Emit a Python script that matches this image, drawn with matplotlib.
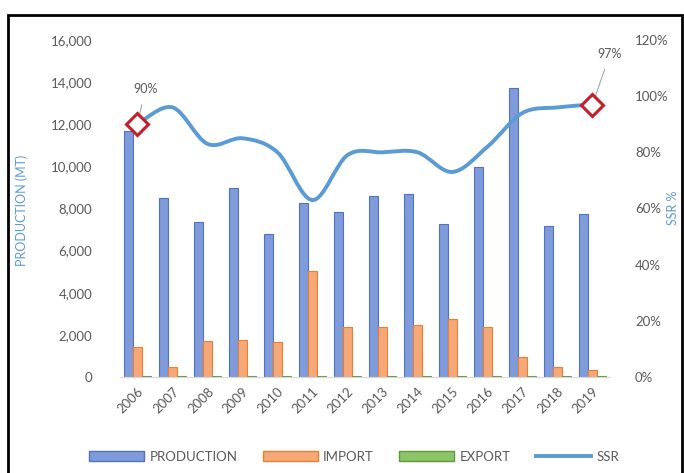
import matplotlib.pyplot as plt
import numpy as np
from matplotlib.path import Path
from matplotlib.patches import PathPatch, Patch, Rectangle
from matplotlib.lines import Line2D
from matplotlib.ticker import FuncFormatter

plt.rcParams['font.family'] = ['Lato', 'DejaVu Sans']

years = ['2006', '2007', '2008', '2009', '2010', '2011', '2012',
         '2013', '2014', '2015', '2016', '2017', '2018', '2019']
production = [11700, 8500, 7350, 8950, 6800, 8250, 7850,
              8600, 8700, 7250, 9950, 13700, 7150, 7750]
imports = [1420, 470, 1700, 1760, 1660, 5030, 2370,
           2370, 2470, 2750, 2370, 950, 470, 350]
exports = [60, 40, 50, 45, 55, 50, 70, 60, 65, 40, 55, 50, 45, 40]
ssr = [90, 96, 83, 85, 80, 63, 79, 80, 80, 73, 82, 94, 96, 97]

txt = '#595959'
c_prod, e_prod = '#7f9bd9', '#4f73c2'
c_imp, e_imp = '#f5a878', '#ec7d31'
c_exp, e_exp = '#8cc46a', '#5f9a3a'
c_ssr = '#5b9bd5'

fig = plt.figure(figsize=(6.84, 4.73), dpi=100)
ax = fig.add_axes([0.1754, 0.2030, 0.7164, 0.7125])
ax2 = ax.twinx()

x = np.arange(len(years))
w = 0.27
ax.bar(x - w, production, w * 0.95, color=c_prod, edgecolor=e_prod, linewidth=0.8)
ax.bar(x, imports, w * 0.95, color=c_imp, edgecolor=e_imp, linewidth=0.8)
ax.bar(x + w, exports, w * 0.95, color=c_exp, edgecolor=e_exp, linewidth=0.8)

ax.set_xlim(-0.5, len(years) - 0.5)
ax.set_ylim(0, 16000)
ax.set_yticks(range(0, 16001, 2000))
ax.yaxis.set_major_formatter(FuncFormatter(lambda v, p: f'{int(v):,}'))
ax.set_xticks(x)
ax.set_xticklabels(years, rotation=45, ha='right', rotation_mode='anchor')
ax.tick_params(axis='x', length=0, pad=6, labelsize=9.5, colors=txt)
ax.tick_params(axis='y', length=0, pad=20, labelsize=9.5, colors=txt)

# smoothed SSR line (bezier through the data points)
ys = np.array(ssr, dtype=float)
pts = list(zip(x, ys))
verts = [pts[0]]
codes = [Path.MOVETO]
n = len(pts)
for i in range(n - 1):
    p0 = np.array(pts[max(i - 1, 0)])
    p1 = np.array(pts[i])
    p2 = np.array(pts[i + 1])
    p3 = np.array(pts[min(i + 2, n - 1)])
    c1 = p1 + (p2 - p0) / 6
    c2 = p2 - (p3 - p1) / 6
    verts += [tuple(c1), tuple(c2), tuple(p2)]
    codes += [Path.CURVE4] * 3
ax2.add_patch(PathPatch(Path(verts, codes), fill=False, edgecolor=c_ssr,
                        linewidth=2.8, capstyle='round', zorder=3))
ax2.plot([x[0], x[-1]], [ssr[0], ssr[-1]], linestyle='none', marker='D',
         markersize=11, markerfacecolor='white', markeredgecolor='#c0202a',
         markeredgewidth=2.2, zorder=4)
ax2.annotate(f'{ssr[0]}%', xy=(x[0], ssr[0]), xytext=(x[0] + 0.22, ssr[0] + 12.5),
             fontsize=9, color=txt, ha='center', va='center',
             arrowprops=dict(arrowstyle='-', color='#a6a6a6', lw=0.8, shrinkA=5, shrinkB=6))
ax2.annotate(f'{ssr[-1]}%', xy=(x[-1], ssr[-1]), xytext=(x[-1] + 0.5, ssr[-1] + 18),
             fontsize=9, color=txt, ha='center', va='center',
             arrowprops=dict(arrowstyle='-', color='#a6a6a6', lw=0.8, shrinkA=5, shrinkB=6))

ax2.set_ylim(0, 120)
ax2.set_yticks(range(0, 121, 20))
ax2.yaxis.set_major_formatter(FuncFormatter(lambda v, p: f'{int(v)}%'))
ax2.tick_params(axis='y', length=0, pad=18, labelsize=9.5, colors=txt)

for a in (ax, ax2):
    for s in ('top', 'left', 'right'):
        a.spines[s].set_visible(False)
    a.spines['bottom'].set_color('#d9d9d9')

fig.text(22 / 684, 1 - 210 / 473, 'PRODUCTION (MT)', rotation=90, fontsize=9,
         color=c_ssr, ha='center', va='center')
fig.text(673 / 684, 1 - 208 / 473, 'SSR %', rotation=90, fontsize=9,
         color=c_ssr, ha='center', va='center')

handles = [Patch(facecolor=c_prod, edgecolor=e_prod),
           Patch(facecolor=c_imp, edgecolor=e_imp),
           Patch(facecolor=c_exp, edgecolor=e_exp),
           Line2D([0], [0], color=c_ssr, lw=2.8)]
fig.legend(handles, ['PRODUCTION', 'IMPORT', 'EXPORT', 'SSR'], loc='center',
           bbox_to_anchor=(354 / 684, 1 - 457 / 473), ncol=4, frameon=False,
           fontsize=9.5, labelcolor=txt, handlelength=4.2, handleheight=0.8,
           columnspacing=1.9, handletextpad=0.4)

fig.add_artist(Rectangle((8 / 684, -0.01), 674 / 684, 1 - 15 / 473 + 0.01,
                         transform=fig.transFigure, fill=False,
                         edgecolor='black', linewidth=2))

fig.savefig('out.png', dpi=100)
